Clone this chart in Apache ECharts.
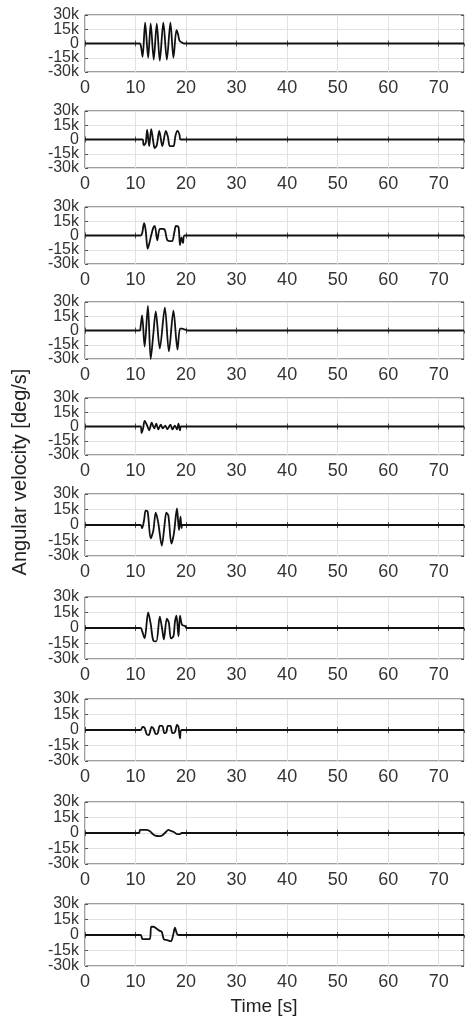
<!DOCTYPE html>
<html><head><meta charset="utf-8">
<script src="https://cdn.jsdelivr.net/npm/echarts@6/dist/echarts.min.js"></script>
<style>html,body{margin:0;padding:0;background:#fff}#c{width:472px;height:1024px}</style>
</head><body><div id="c"></div>
<script>
// Time axis [s] and angular velocity in k deg/s
const timeMin = 0, timeMax = 75, timeStep = 10;
const velMin = -30, velMax = 30, velStep = 15;
const xTickLabels = ['0','10','20','30','40','50','60','70'];
const yTickLabels = ['-30k','-15k','0','15k','30k'];

const panel1 = [[0,0],[10.8,0],[11.1,-4],[11.4,-14],[11.9,22],[12.5,-15],[13.0,21],[13.6,-17],[14.2,21],[14.8,-18],[15.5,22],[16.2,-17],[16.9,22],[17.5,-15],[18.1,14],[18.4,10],[18.7,3],[19.2,1],[19.6,0],[75,0]];
const panel2 = [[0,0],[11.4,0],[11.6,-6],[12.0,-4],[12.3,10],[12.7,-7],[13.1,11],[13.5,-2],[13.8,-9],[14.2,-6],[14.7,9],[15.3,-7],[16.0,9],[16.4,3],[16.8,-7],[17.5,-7],[17.9,4],[18.3,9],[18.7,5],[18.9,0],[75,0]];
const panel3 = [[0,0],[11.0,0],[11.3,2],[11.7,13],[12.0,6],[12.4,-14],[12.7,-9],[13.0,-2],[13.5,8],[13.8,10],[14.3,-5],[14.8,7],[15.3,7],[15.8,6],[16.3,-5],[17.2,-6],[17.7,4],[18.0,10],[18.5,9],[18.8,-10],[19.1,-2],[19.4,-8],[19.7,0],[75,0]];
const panel4 = [[0,0],[10.8,0],[11.0,4],[11.3,16],[11.8,-17],[12.45,26],[13.0,-30],[13.5,-5],[14.0,20],[14.8,-19],[15.8,24],[16.6,-22],[17.5,21],[18.3,-20],[18.8,2],[19.2,2],[19.8,1],[20.3,0],[75,0]];
const panel5 = [[0,0],[11.0,0],[11.2,-7],[11.5,-2],[11.8,6],[12.3,1],[12.7,-4],[13.2,4],[13.7,-2],[14.1,3],[14.5,-3],[15.0,2],[15.4,-2],[15.9,1],[16.3,-3],[16.9,2],[17.3,-3],[17.8,1],[18.2,-3],[18.5,3],[18.8,-4],[19.0,0],[75,0]];
const panel6 = [[0,0],[11.0,0],[11.3,-3],[11.7,5],[12.0,14],[12.4,13],[13.0,-13],[13.5,-6],[14.0,12],[14.5,2],[15.2,-20],[15.7,-2],[16.1,12],[16.5,9],[17.1,-18],[17.6,-8],[18.2,16],[18.6,-5],[18.9,8],[19.1,-3],[19.3,0],[75,0]];
const panel7 = [[0,0],[11.0,0],[11.3,-3],[11.8,-10],[12.5,15],[13.0,4],[13.5,-12],[14.1,-13],[14.8,11],[15.3,-2],[15.6,-11],[16.2,9],[16.6,5],[17.0,-10],[17.5,-8],[17.8,6],[18.1,12],[18.5,-8],[18.8,12],[19.2,3],[19.8,2],[20.1,0],[75,0]];
const panel8 = [[0,0],[11.0,0],[11.4,3],[11.8,2],[12.2,-4],[12.6,-5],[13.2,3],[13.6,1],[14.0,-4],[14.4,-3],[14.8,4],[15.3,4],[15.7,-3],[16.1,-2],[16.4,4],[16.9,4],[17.3,-3],[17.8,-2],[18.2,5],[18.5,3],[18.8,-8],[19.1,0],[75,0]];
const panel9 = [[0,0],[10.7,0],[10.9,3],[12.0,3],[12.8,2],[13.4,-1],[13.9,-2.5],[14.8,-3],[15.4,-2],[16.0,1],[16.5,3],[17.0,2],[17.6,1],[18.2,-1],[18.8,-1],[19.1,0],[75,0]];
const panel10 = [[0,0],[11.0,0],[11.4,-4],[12.8,-4],[13.1,8],[13.6,8],[14.2,6],[14.8,4],[15.2,3],[15.6,-4],[16.3,-5],[17.0,-6],[17.4,-1],[17.8,7],[18.2,1],[18.5,0],[75,0]];

const panels = [panel1,panel2,panel3,panel4,panel5,panel6,panel7,panel8,panel9,panel10];

// layout
const tops = [15,111,207,302,398,494,597,699,802,904];
const heights = [57,57,57,57,57,62,62,62,62,62];
const FONT = 'Liberation Sans, Arial, sans-serif';

const grid=[], xAxis=[], yAxis=[], series=[];
const xLab = v => { const k = Math.round((v - timeMin)/timeStep); return (Math.abs(v - (timeMin + k*timeStep))<1e-6 && k < xTickLabels.length) ? xTickLabels[k] : ''; };
const yLabIdx = v => Math.round((v - velMin)/velStep);
const yLabEven = v => { const k = yLabIdx(v); return k % 2 === 0 ? (yTickLabels[k]||'') : ''; };
const yLabOdd = v => { const k = yLabIdx(v); return k % 2 === 1 ? (yTickLabels[k]||'') : ''; };
const ylabStyle = {show:true,fontSize:16,color:'#333',margin:6,fontFamily:FONT,showMinLabel:true,showMaxLabel:true,hideOverlap:false};

panels.forEach((d,i)=>{
  grid.push({left:85,right:8,top:tops[i],height:heights[i],show:true,borderColor:'#3c3c3c',borderWidth:1,backgroundColor:'#fff',containLabel:false});
  xAxis.push({type:'value',gridIndex:i,min:timeMin,max:timeMax,interval:timeStep,
    axisLine:{show:false},
    axisTick:{show:true,inside:true,length:3,lineStyle:{color:'#555'}},
    axisLabel:{show:true,fontSize:18,color:'#333',margin:7,fontFamily:FONT,formatter:xLab,showMaxLabel:false,showMinLabel:true,hideOverlap:false},
    splitLine:{show:true,lineStyle:{color:'#e2e2e2',width:1}}});
  xAxis.push({type:'value',gridIndex:i,position:'top',min:timeMin,max:timeMax,interval:timeStep,
    axisLine:{show:false},axisTick:{show:true,inside:true,length:3,lineStyle:{color:'#555'}},
    axisLabel:{show:false},splitLine:{show:false}});
  const yb = 3*i;
  yAxis.push({type:'value',gridIndex:i,position:'left',offset:0,min:velMin,max:velMax,interval:velStep,
    axisLine:{show:false},
    axisTick:{show:true,inside:true,length:3,lineStyle:{color:'#555'}},
    axisLabel:Object.assign({formatter:yLabEven},ylabStyle),
    splitLine:{show:true,lineStyle:{color:'#e2e2e2',width:1}}});
  yAxis.push({type:'value',gridIndex:i,position:'left',offset:0,min:velMin,max:velMax,interval:velStep,
    axisLine:{show:false},axisTick:{show:false},
    axisLabel:Object.assign({formatter:yLabOdd},ylabStyle),
    splitLine:{show:false}});
  yAxis.push({type:'value',gridIndex:i,position:'right',min:velMin,max:velMax,interval:velStep,
    axisLine:{show:false},axisTick:{show:true,inside:true,length:3,lineStyle:{color:'#555'}},
    axisLabel:{show:false},splitLine:{show:false}});
  series.push({type:'line',xAxisIndex:2*i,yAxisIndex:yb,data:d,showSymbol:false,smooth:0.3,
    lineStyle:{color:'#111',width:1.8},z:5});
});

const chart = echarts.init(document.getElementById('c'),null,{renderer:'canvas'});
chart.setOption({
  animation:false,
  backgroundColor:'#fff',
  grid, xAxis, yAxis, series,
  graphic:[
    {type:'text',x:264,y:1007,style:{text:'Time [s]',font:'19px '+FONT,fill:'#222',textAlign:'center',textVerticalAlign:'middle'}},
    {type:'text',x:20,y:472,rotation:Math.PI/2,style:{text:'Angular velocity [deg/s]',font:'20px '+FONT,fill:'#222',textAlign:'center',textVerticalAlign:'middle'}}
  ]
});
</script></body></html>
